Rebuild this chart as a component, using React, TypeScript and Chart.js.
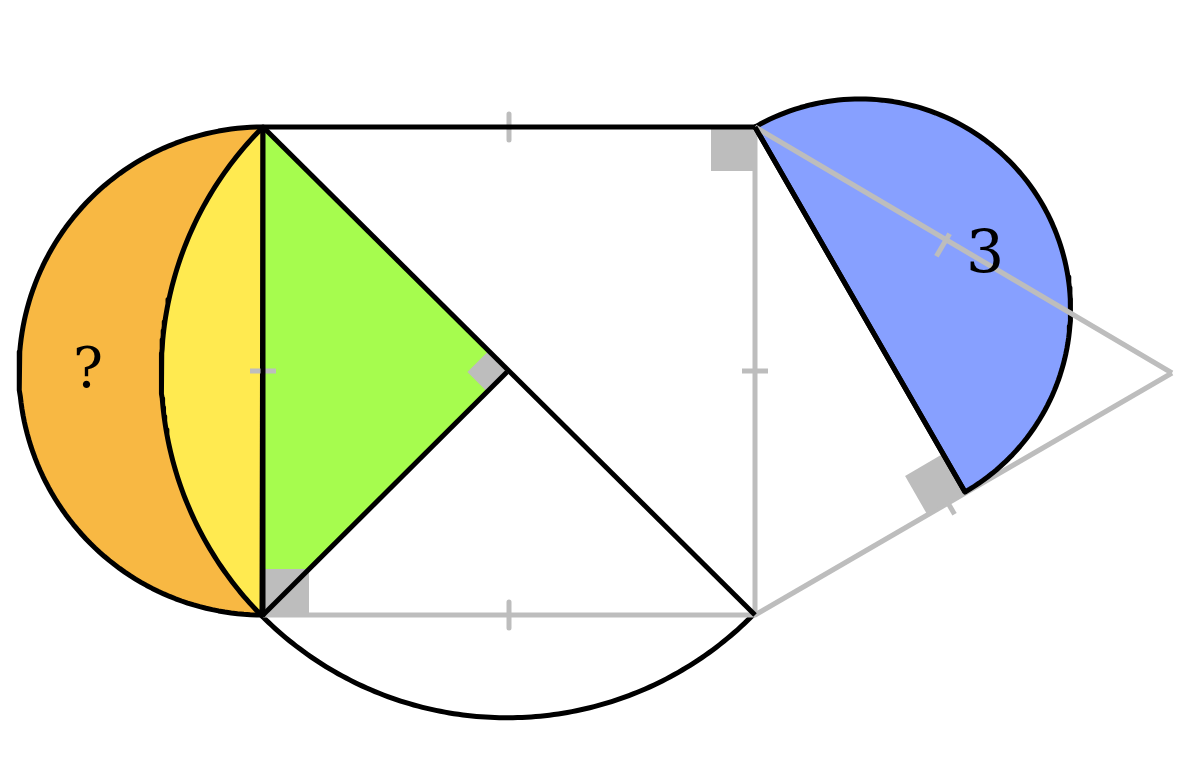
import { useEffect, useRef } from "react";
import { Chart, registerables } from "chart.js";

Chart.register(...registerables);

type P = { x: number; y: number };

// key vertices of the figure (in plot units, y grows downward)
const squareTL: P = { x: 263, y: 127 };
const squareTR: P = { x: 755, y: 127 };
const squareBR: P = { x: 755, y: 615 };
const squareBL: P = { x: 263, y: 615 };
const squareCenter: P = { x: 507, y: 372 };
const kiteApex: P = { x: 1172, y: 373 };
const footF: P = { x: 965, y: 492 };

const labels = [
  { text: "?", x: 88, y: 372, size: 56 },
  { text: "3", x: 985, y: 257, size: 60 },
];

const BLACK = "#000000";
const GRAY = "#bdbdbd";
const ORANGE = "#f8b843";
const YELLOW = "#ffea50";
const GREEN = "#a6fc4e";
const BLUE = "#87a0ff";

function arc(c: P, r: number, a0: number, a1: number, n = 120): P[] {
  const pts: P[] = [];
  for (let i = 0; i <= n; i++) {
    const a = ((a0 + ((a1 - a0) * i) / n) * Math.PI) / 180;
    pts.push({ x: c.x + r * Math.cos(a), y: c.y + r * Math.sin(a) });
  }
  return pts;
}
const ang = (c: P, p: P) => (Math.atan2(p.y - c.y, p.x - c.x) * 180) / Math.PI;
const dist = (a: P, b: P) => Math.hypot(a.x - b.x, a.y - b.y);
const mid = (a: P, b: P): P => ({ x: (a.x + b.x) / 2, y: (a.y + b.y) / 2 });

function tickAcross(a: P, b: P, at: P, half = 13): P[] {
  const d = dist(a, b);
  const nx = -(b.y - a.y) / d;
  const ny = (b.x - a.x) / d;
  return [
    { x: at.x - nx * half, y: at.y - ny * half },
    { x: at.x + nx * half, y: at.y + ny * half },
  ];
}

function rightMark(v: P, p1: P, p2: P, s: number): P[] {
  const u1 = { x: (p1.x - v.x) / dist(v, p1), y: (p1.y - v.y) / dist(v, p1) };
  const u2 = { x: (p2.x - v.x) / dist(v, p2), y: (p2.y - v.y) / dist(v, p2) };
  return [
    v,
    { x: v.x + u1.x * s, y: v.y + u1.y * s },
    { x: v.x + (u1.x + u2.x) * s, y: v.y + (u1.y + u2.y) * s },
    { x: v.x + u2.x * s, y: v.y + u2.y * s },
    v,
  ];
}

export default function App() {
  const chartRef = useRef<HTMLCanvasElement>(null);
  const chartInstance = useRef<Chart | null>(null);

  useEffect(() => {
    if (!chartRef.current) return;
    document.body.style.margin = "0";
    const ctx = chartRef.current.getContext("2d");
    if (!ctx) return;
    if (chartInstance.current) chartInstance.current.destroy();

    const A = squareTL, B = squareTR, C = squareBR, D = squareBL, O = squareCenter;
    const leftC = mid(A, D);
    const bigR = dist(O, A);
    const blueC = mid(B, footF);

    const shapes: any[] = [];
    const fillShape = (pts: P[], bg: string, border: string | null, w = 5) =>
      shapes.push({ pts, bg, border, w, fill: true });
    const line = (pts: P[], color: string, w = 5) =>
      shapes.push({ pts, bg: "transparent", border: color, w, fill: false });

    // left semicircle and lune
    fillShape([...arc(leftC, dist(leftC, A), 270, 90), A], ORANGE, BLACK);
    fillShape([...arc(O, bigR, ang(O, A) + 360, ang(O, D)), A], YELLOW, BLACK);
    fillShape([A, O, D, A], GREEN, null);
    // lower arc
    line(arc(O, bigR, ang(O, D), ang(O, C)), BLACK);
    // gray construction
    line([D, C], GRAY);
    line([B, C], GRAY);
    line([C, kiteApex], GRAY);
    line(tickAcross(A, B, mid(A, B)), GRAY);
    line(tickAcross(D, C, mid(D, C)), GRAY);
    line(tickAcross(A, D, mid(A, D)), GRAY);
    line(tickAcross(B, C, mid(B, C)), GRAY);
    line(tickAcross(C, kiteApex, { x: 948, y: 503 }), GRAY);
    fillShape(rightMark(B, { x: B.x - 1, y: B.y }, { x: B.x, y: B.y + 1 }, 44), GRAY, null);
    fillShape(rightMark(D, { x: D.x, y: D.y - 1 }, { x: D.x + 1, y: D.y }, 46), GRAY, null);
    fillShape(rightMark(O, A, D, 28), GRAY, null);
    fillShape(rightMark(footF, B, C, 44), GRAY, null);
    // blue semicircle
    fillShape([...arc(blueC, dist(blueC, B), ang(blueC, B), ang(blueC, footF)), B], BLUE, BLACK);
    line([B, kiteApex], GRAY);
    line(tickAcross(B, kiteApex, { x: 943, y: 245 }), GRAY);
    // black edges
    line([A, B], BLACK);
    line([A, C], BLACK);
    line([O, D], BLACK);
    line([A, D], BLACK);
    line([B, footF], BLACK);

    const textPlugin = {
      id: "labels",
      afterDatasetsDraw(chart: any) {
        const { ctx: c, scales } = chart;
        c.save();
        c.fillStyle = BLACK;
        c.textAlign = "center";
        c.textBaseline = "middle";
        for (const l of labels) {
          c.font = `${l.size}px "DejaVu Serif", serif`;
          c.fillText(l.text, scales.x.getPixelForValue(l.x), scales.y.getPixelForValue(l.y));
        }
        c.restore();
      },
    };

    chartInstance.current = new Chart(ctx, {
      type: "scatter",
      data: {
        datasets: shapes.map((s, i) => ({
          data: s.pts,
          showLine: true,
          tension: 0,
          pointRadius: 0,
          borderColor: s.border ?? "transparent",
          borderWidth: s.border ? s.w : 0,
          backgroundColor: s.bg,
          fill: s.fill ? "shape" : false,
          borderJoinStyle: "round",
          order: -i,
          clip: false,
        })),
      },
      options: {
        animation: false,
        responsive: true,
        maintainAspectRatio: false,
        layout: { padding: 0 },
        plugins: { legend: { display: false }, tooltip: { enabled: false } },
        scales: {
          x: { type: "linear", min: 0, max: 1200, display: false },
          y: { type: "linear", min: 0, max: 765, reverse: true, display: false },
        },
      } as any,
      plugins: [textPlugin],
    });

    return () => {
      if (chartInstance.current) chartInstance.current.destroy();
    };
  }, []);

  return (
    <div style={{ width: 1200, height: 765, position: "relative", background: "#fff" }}>
      <canvas ref={chartRef} />
    </div>
  );
}
